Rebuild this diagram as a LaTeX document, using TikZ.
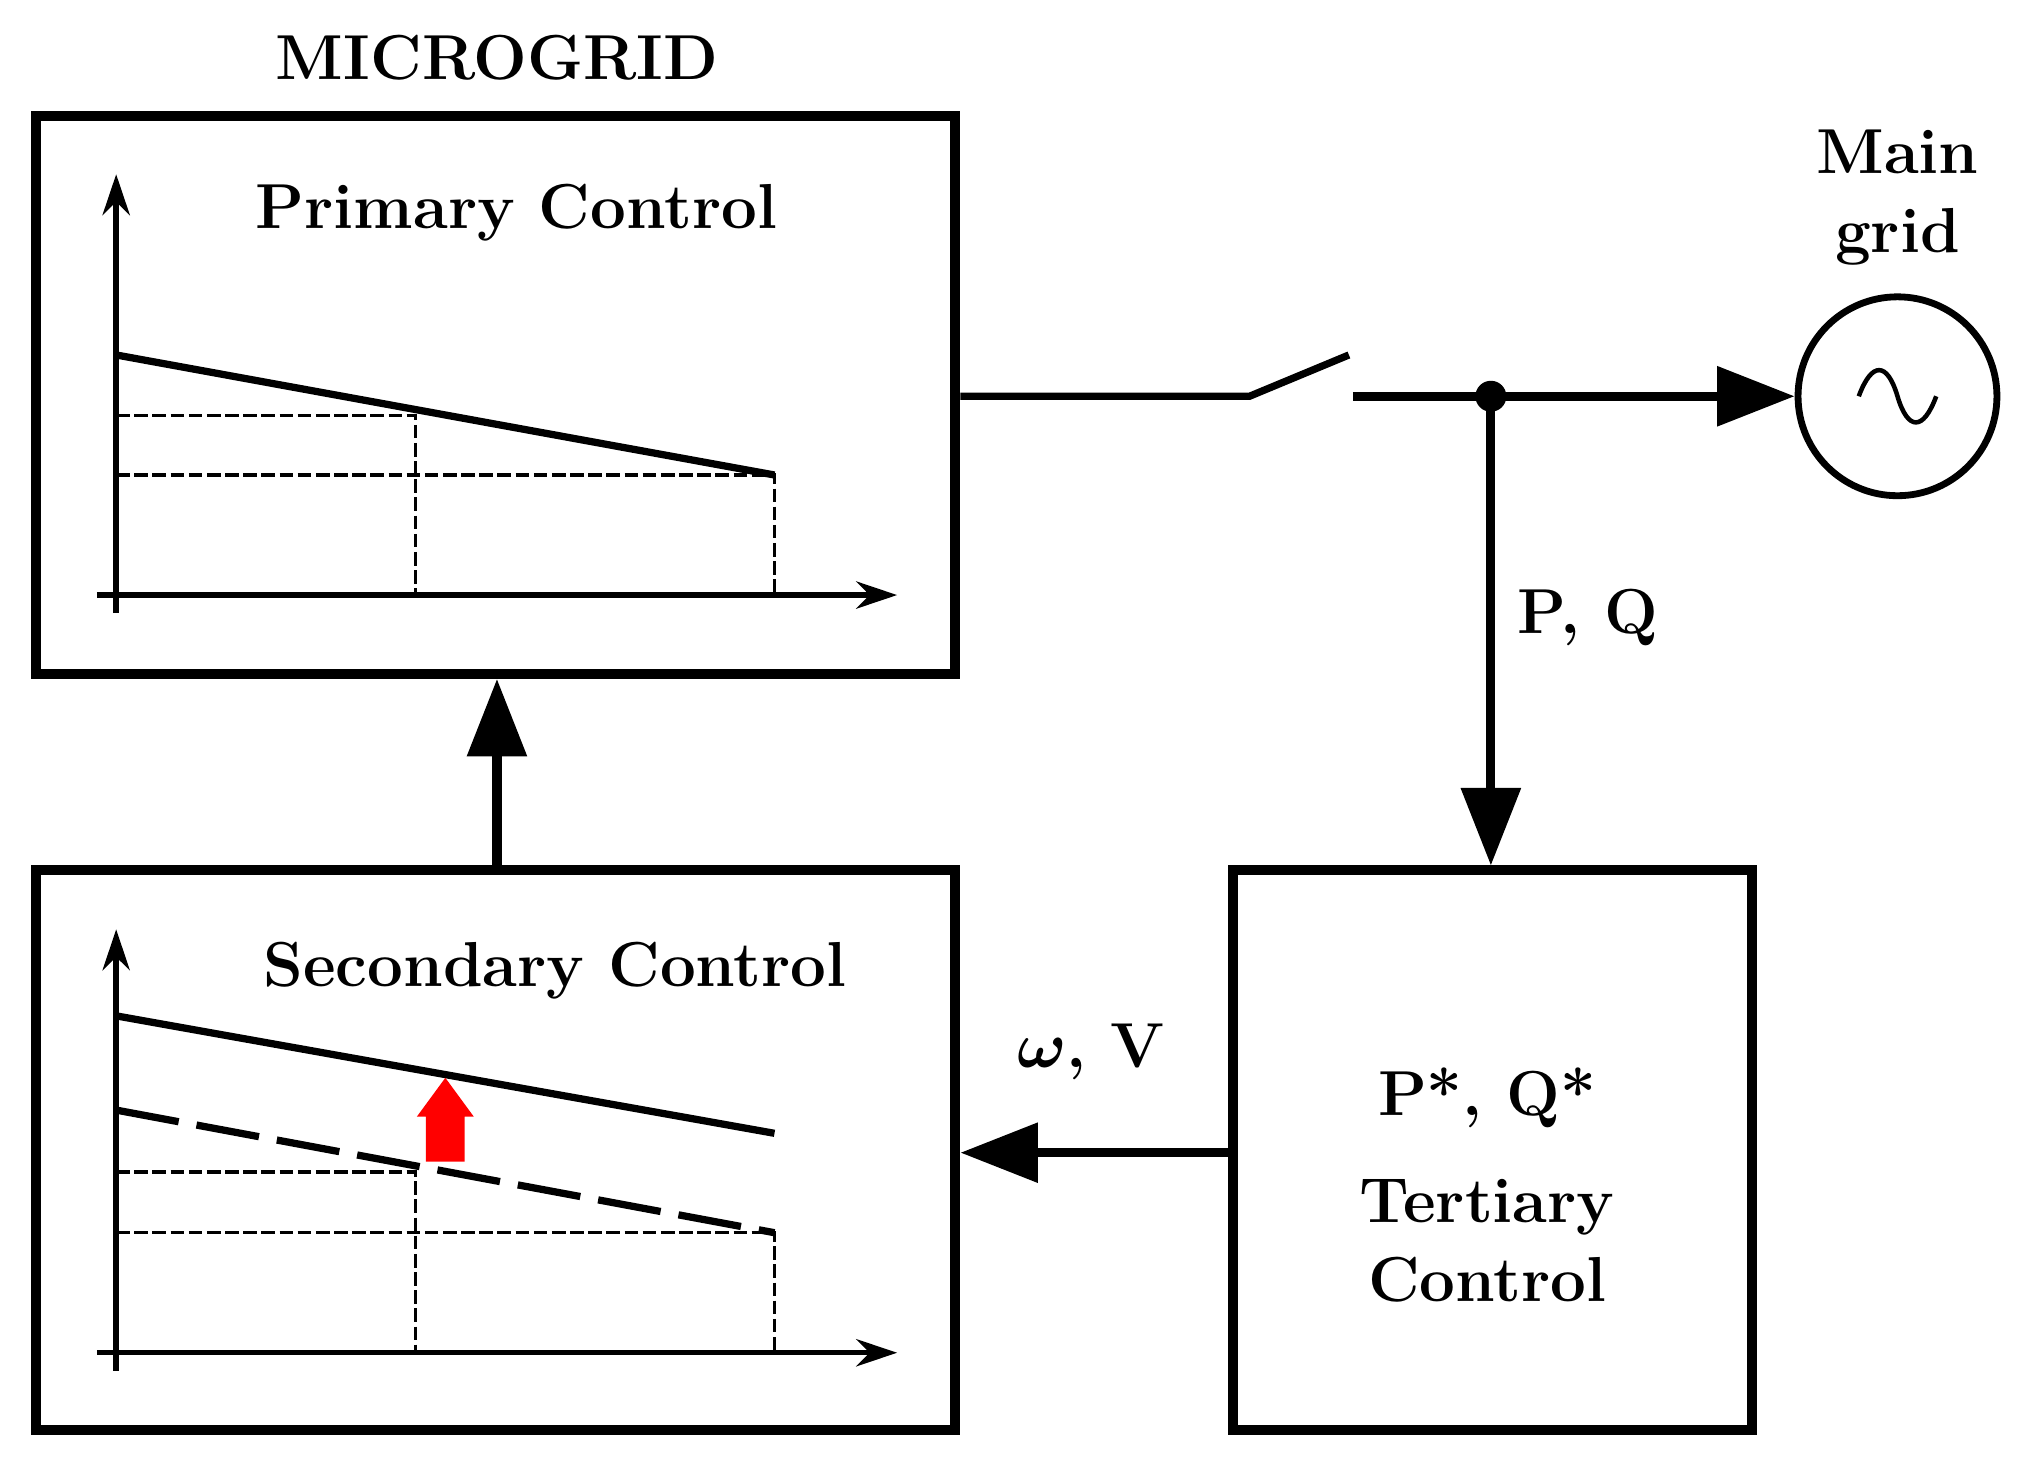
\documentclass[tikz,border=0pt]{standalone}
\usepackage{amsmath}
\usetikzlibrary{arrows.meta}
\begin{document}
\begin{tikzpicture}[x=0.01cm,y=-0.01cm,
  box/.style={draw,line width=2.2pt},
  ln/.style={line width=1.6pt},
  dsh/.style={line width=0.7pt,dash pattern=on 3pt off 1pt},
  axis/.style={line width=1.2pt,-{Stealth[length=9pt,width=6pt]}},
  big/.style={line width=2pt,-{Triangle[length=0.6cm,width=0.45cm]}},
  lbl/.style={font=\fontsize{14}{17.5}\selectfont\bfseries,align=center}]
\useasboundingbox (0,0) rectangle (1568,1137);
\node[lbl] (mg) at (385,45) {MICROGRID};
\node[box,minimum width=7.12cm,minimum height=4.32cm] (prim) at (384,306) {};
\node[lbl] (pt) at (400,165) {Primary Control};
\draw[axis] (90,475) -- (90,135);
\draw[axis] (75,461) -- (695,461);
\draw[ln] (90,275) -- (600,368);
\draw[dsh] (90,322) -- (322,322) -- (322,461);
\draw[dsh] (90,368) -- (600,368) -- (600,461);
\node[box,minimum width=7.12cm,minimum height=4.33cm] (sec) at (384,891) {};
\node[lbl] (st) at (430,752) {Secondary Control};
\draw[axis] (90,1062) -- (90,720);
\draw[axis] (75,1048) -- (695,1048);
\draw[ln] (90,787) -- (600,878);
\draw[ln,dash pattern=on 14pt off 4pt] (90,860) -- (600,955);
\draw[dsh] (90,908) -- (322,908) -- (322,1048);
\draw[dsh] (90,955) -- (600,955) -- (600,1048);
\fill[red] (330,900) -- (330,865) -- (323,865) -- (345,835) -- (367,865) -- (360,865) -- (360,900) -- cycle;
\node[box,minimum width=4.02cm,minimum height=4.33cm] (ter) at (1156,891) {};
\node[lbl] (tt) at (1152,918) {P*, Q*\\[6pt]Tertiary\\Control};
\node[draw,circle,line width=1.5pt,minimum size=1.54cm] (grid) at (1470,307) {};
\draw[line width=1pt] (1440,307) .. controls (1450,280) and (1462,280) .. (1470,307) .. controls (1478,334) and (1490,334) .. (1500,307);
\node[lbl] (mgt) at (1470,153) {Main\\grid};
\coordinate (s1) at (968,307);
\coordinate (s2) at (1045,275);
\coordinate (s3) at (1048,307);
\coordinate (j) at (1155,307);
\draw[ln] (prim.east |- s1) -- (s1) -- (s2);
\draw[big] (s3) -- (grid.west);
\fill (j) circle (12);
\draw[big] (j) -- (j |- ter.north);
\node[lbl] (pq) at (1230,478) {P, Q};
\draw[big] (ter.west |- 0,893) -- (sec.east |- 0,893);
\node[lbl] (wv) at (845,815) {$\boldsymbol{\omega}$, V};
\draw[big] (sec.north -| 385,0) -- (prim.south -| 385,0);
\end{tikzpicture}
\end{document}
